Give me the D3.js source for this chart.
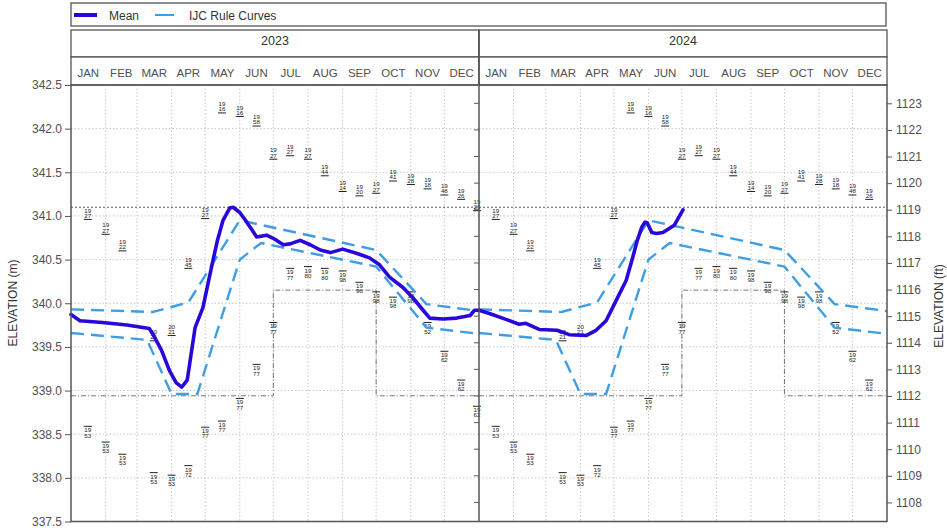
<!DOCTYPE html>
<html>
<head>
<meta charset="utf-8">
<script src="https://cdn.jsdelivr.net/npm/d3@7"></script>
<style>
  body { margin: 0; background: #fff; }
  text { font-family: "Liberation Sans", Arial, sans-serif; }
</style>
</head>
<body>
<svg id="chart" width="947" height="530"></svg>
<script>
// ---- data ----
const years = [2023, 2024];
const months = ["JAN", "FEB", "MAR", "APR", "MAY", "JUN", "JUL", "AUG", "SEP", "OCT", "NOV", "DEC"];

// daily mean water level (m), sampled from the plotted line
const meanDates = ["2023-01-01", "2023-01-09", "2023-01-29", "2023-02-20", "2023-03-12", "2023-03-16",
  "2023-03-23", "2023-03-30", "2023-04-05", "2023-04-10", "2023-04-15", "2023-04-22", "2023-04-29",
  "2023-05-08", "2023-05-12", "2023-05-17", "2023-05-23", "2023-05-26", "2023-06-01", "2023-06-05",
  "2023-06-12", "2023-06-16", "2023-06-25", "2023-06-30", "2023-07-04", "2023-07-10", "2023-07-16",
  "2023-07-25", "2023-08-03", "2023-08-12", "2023-08-21", "2023-09-01", "2023-09-14", "2023-09-25",
  "2023-10-04", "2023-10-13", "2023-10-25", "2023-11-03", "2023-11-12", "2023-11-18", "2023-11-30",
  "2023-12-12", "2023-12-24", "2023-12-28", "2024-01-01", "2024-01-11", "2024-01-22", "2024-02-06",
  "2024-02-12", "2024-02-24", "2024-03-11", "2024-03-22", "2024-04-06", "2024-04-15", "2024-04-24",
  "2024-05-03", "2024-05-12", "2024-05-18", "2024-05-22", "2024-05-26", "2024-05-29", "2024-05-31",
  "2024-06-04", "2024-06-08", "2024-06-14", "2024-06-20", "2024-06-24", "2024-07-02"];
const meanLevels = [339.87, 339.80, 339.78, 339.75, 339.71, 339.63,
  339.46, 339.23, 339.09, 339.04, 339.12, 339.72, 339.95,
  340.49, 340.72, 340.95, 341.09, 341.10, 341.04, 340.97,
  340.84, 340.76, 340.78, 340.75, 340.72, 340.67, 340.68,
  340.72, 340.67, 340.61, 340.58, 340.62, 340.57, 340.52,
  340.44, 340.30, 340.18, 340.06, 339.92, 339.83, 339.82,
  339.83, 339.86, 339.92, 339.92, 339.88, 339.83, 339.76,
  339.77, 339.70, 339.69, 339.64, 339.63, 339.69, 339.80,
  340.03, 340.26, 340.53, 340.72, 340.87, 340.93, 340.92,
  340.81, 340.80, 340.81, 340.86, 340.89, 341.07];

// IJC rule curve band (same every year)
const upperDays = ["01-01", "03-15", "04-16", "06-01", "10-01", "11-15", "12-31"];
const upperLevels = [339.93, 339.90, 340.01, 340.95, 340.61, 339.99, 339.91];
const lowerDays = ["01-01", "03-10", "04-01", "04-24", "06-01", "06-20", "10-01", "11-15", "12-31"];
const lowerLevels = [339.66, 339.58, 338.96, 338.96, 340.50, 340.69, 340.42, 339.72, 339.65];

// reference levels
const floodLevel = 341.10;
const stepDays = ["01-01", "07-01", "07-01", "10-01", "10-01", "12-31"];
const stepLevels = [338.94, 338.94, 340.15, 340.15, 338.94, 338.94];

// period-of-record extremes (max / min) with year
const recDays = ["01-01", "01-16", "02-01", "02-16", "03-16", "04-01", "04-16", "05-01", "05-16", "06-01",
  "06-16", "07-01", "07-16", "08-01", "08-16", "09-01", "09-16", "10-01", "10-16", "11-01", "11-16",
  "12-01", "12-16"];
const recMax = [341.06, 340.96, 340.79, 340.60, 339.57, 339.63, 340.40, 340.97, 342.18, 342.14,
  342.03, 341.65, 341.69, 341.65, 341.46, 341.28, 341.23, 341.26, 341.40, 341.36, 341.31,
  341.24, 341.19];
const recMaxYr = ["1926", "1927", "1927", "1922", "2021", "2021", "1945", "1927", "1916", "1916",
  "1958", "1927", "1927", "1927", "1944", "1914", "1920", "1927", "1941", "1928", "1918",
  "1948", "1926"];
const recMin = [338.82, 338.59, 338.41, 338.27, 338.06, 338.03, 338.14, 338.58, 338.65, 338.91,
  339.30, 339.78, 340.40, 340.42, 340.40, 340.37, 340.24, 340.13, 340.07, 340.13, 339.78,
  339.45, 339.12];
const recMinYr = ["1962", "1953", "1953", "1953", "1953", "1953", "1972", "1977", "1977", "1977",
  "1977", "1977", "1977", "1980", "1980", "1998", "1998", "1998", "1998", "1998", "1952",
  "1962", "1962"];

const yTicks = d3.range(337.5, 342.51, 0.5);
const ftTicks = d3.range(1108, 1124, 1);

// ---- layout ----
const svg = d3.select("#chart");
const plotL = 71, plotR = 887, plotT = 85, plotB = 521.5;
const mid = (plotL + plotR) / 2;
const gridCol = "#c8c8c8", frameCol = "#555", textCol = "#505050";
const meanCol = "#2a06dc", ruleCol = "#3d9ee6";

const y = d3.scaleLinear().domain([337.5, 342.5]).range([plotB, plotT]);
const yFt = d3.scaleLinear().domain([337.5 / 0.3048, 342.5 / 0.3048]).range([plotB, plotT]);
const parse = d3.timeParse("%Y-%m-%d");

const meanData = meanDates.map((d, i) => ({ date: parse(d), v: meanLevels[i] }));

// legend box
svg.append("rect").attr("x", plotL).attr("y", 3).attr("width", plotR - plotL - 1).attr("height", 23)
  .attr("fill", "#fff").attr("stroke", frameCol).attr("stroke-width", 1.3);
svg.append("line").attr("x1", 74).attr("x2", 97).attr("y1", 15).attr("y2", 15)
  .attr("stroke", meanCol).attr("stroke-width", 4);
svg.append("text").attr("x", 109).attr("y", 19.5).attr("font-size", 12).attr("fill", "#333").text("Mean");
svg.append("line").attr("x1", 155).attr("x2", 174).attr("y1", 15).attr("y2", 15)
  .attr("stroke", ruleCol).attr("stroke-width", 2);
svg.append("text").attr("x", 189).attr("y", 19.5).attr("font-size", 12).attr("fill", "#333").text("IJC Rule Curves");

years.forEach((yr, p) => {
  const x0 = p === 0 ? plotL : mid, x1 = p === 0 ? mid : plotR;
  const x = d3.scaleTime().domain([new Date(yr, 0, 1), new Date(yr + 1, 0, 1)]).range([x0, x1]);
  const dayX = md => x(parse(yr + "-" + md));
  const g = svg.append("g");

  // strips
  g.append("rect").attr("x", x0).attr("y", 30).attr("width", x1 - x0).attr("height", 27)
    .attr("fill", "#fff").attr("stroke", frameCol).attr("stroke-width", 1.3);
  g.append("text").attr("x", (x0 + x1) / 2).attr("y", 45).attr("text-anchor", "middle")
    .attr("font-size", 12.5).attr("fill", "#333").text(yr);
  g.append("rect").attr("x", x0).attr("y", 57).attr("width", x1 - x0).attr("height", plotT - 57)
    .attr("fill", "#fff").attr("stroke", frameCol).attr("stroke-width", 1.3);
  const mStarts = d3.range(12).map(m => new Date(yr, m, 1));
  g.selectAll(".mlab").data(mStarts).enter().append("text")
    .attr("x", d => (x(d) + x(d3.timeMonth.offset(d, 1))) / 2).attr("y", 77)
    .attr("text-anchor", "middle").attr("font-size", 11.5).attr("fill", textCol)
    .text((d, i) => months[i]);

  // grid
  g.selectAll(".vg").data(mStarts.slice(1)).enter().append("line")
    .attr("x1", d => x(d)).attr("x2", d => x(d)).attr("y1", plotT).attr("y2", plotB)
    .attr("stroke", gridCol).attr("stroke-dasharray", "1.5,2");
  g.selectAll(".hg").data(yTicks.slice(1, -1)).enter().append("line")
    .attr("x1", x0).attr("x2", x1).attr("y1", d => y(d)).attr("y2", d => y(d))
    .attr("stroke", gridCol).attr("stroke-dasharray", "1.5,2");

  // reference levels
  g.append("line").attr("x1", x0).attr("x2", x1).attr("y1", y(floodLevel)).attr("y2", y(floodLevel))
    .attr("stroke", "#444").attr("stroke-width", 0.9).attr("stroke-dasharray", "2,2");
  g.append("path")
    .datum(stepDays.map((d, i) => [d === "12-31" ? x1 : dayX(d), y(stepLevels[i])]))
    .attr("d", d3.line()).attr("fill", "none").attr("stroke", "#666").attr("stroke-width", 0.9)
    .attr("stroke-dasharray", "5,2,1,2");

  // record labels
  const recs = recDays.map((d, i) => ({ d, i })).filter(r => !(p === 0 && r.i === 0));
  const lab = (v, yrTxt, isMax, cx) => {
    const yy = y(v), lg = g.append("g").attr("fill", "#222").attr("font-size", 6.2)
      .attr("text-anchor", "middle");
    lg.append("line").attr("x1", cx - 4).attr("x2", cx + 4).attr("y1", yy).attr("y2", yy)
      .attr("stroke", "#222").attr("stroke-width", 1);
    const a = isMax ? yy - 6.8 : yy + 6, b = isMax ? yy - 1.6 : yy + 11.2;
    lg.append("text").attr("x", cx).attr("y", a).text(yrTxt.slice(0, 2));
    lg.append("text").attr("x", cx).attr("y", b).text(yrTxt.slice(2));
  };
  recs.forEach(r => {
    const cx = dayX(r.d) - (r.d === "01-01" ? 2 : 0);
    lab(recMax[r.i], recMaxYr[r.i], true, cx);
    lab(recMin[r.i], recMinYr[r.i], false, cx);
  });

  // rule curves
  [[upperDays, upperLevels], [lowerDays, lowerLevels]].forEach(([days, lv]) => {
    g.append("path")
      .datum(days.map((d, i) => [d === "12-31" ? x1 : dayX(d), y(lv[i])]))
      .attr("d", d3.line()).attr("fill", "none").attr("stroke", ruleCol)
      .attr("stroke-width", 2.4).attr("stroke-dasharray", "13,7");
  });

  // mean
  const part = meanData.filter(d => d.date >= new Date(yr, 0, 1) && d.date <= new Date(yr + 1, 0, 1));
  g.append("path").datum(part)
    .attr("d", d3.line().x(d => x(d.date)).y(d => y(d.v)))
    .attr("fill", "none").attr("stroke", meanCol).attr("stroke-width", 3.6)
    .attr("stroke-linejoin", "round").attr("stroke-linecap", "round");

  // ft ticks on the panel's right edge
  if (p === 0) {
    g.selectAll(".ft").data(ftTicks).enter().append("line")
      .attr("x1", x1 - 5).attr("x2", x1).attr("y1", d => yFt(d)).attr("y2", d => yFt(d))
      .attr("stroke", frameCol);
  }
});

// frame
svg.append("rect").attr("x", plotL).attr("y", plotT).attr("width", plotR - plotL).attr("height", plotB - plotT)
  .attr("fill", "none").attr("stroke", frameCol).attr("stroke-width", 1.5);
svg.append("line").attr("x1", mid).attr("x2", mid).attr("y1", 30).attr("y2", plotB)
  .attr("stroke", frameCol).attr("stroke-width", 1.5);

// axes
const axL = svg.append("g").attr("transform", `translate(${plotL},0)`)
  .call(d3.axisLeft(y).tickValues(yTicks).tickFormat(d3.format(".1f")).tickSize(6).tickPadding(3));
const axR = svg.append("g").attr("transform", `translate(${plotR},0)`)
  .call(d3.axisRight(yFt).tickValues(ftTicks).tickFormat(d3.format("d")).tickSize(5).tickPadding(4));
[axL, axR].forEach(a => {
  a.select(".domain").remove();
  a.selectAll("line").attr("stroke", frameCol);
  a.selectAll("text").attr("font-size", 12).attr("fill", textCol)
    .attr("font-family", "Liberation Sans, Arial, sans-serif");
});

svg.append("text").attr("transform", "translate(17,303) rotate(-90)").attr("text-anchor", "middle")
  .attr("font-size", 12).attr("fill", "#333").text("ELEVATION (m)");
svg.append("text").attr("transform", "translate(943,306) rotate(-90)").attr("text-anchor", "middle")
  .attr("font-size", 12).attr("fill", "#333").text("ELEVATION (ft)");
</script>
</body>
</html>
